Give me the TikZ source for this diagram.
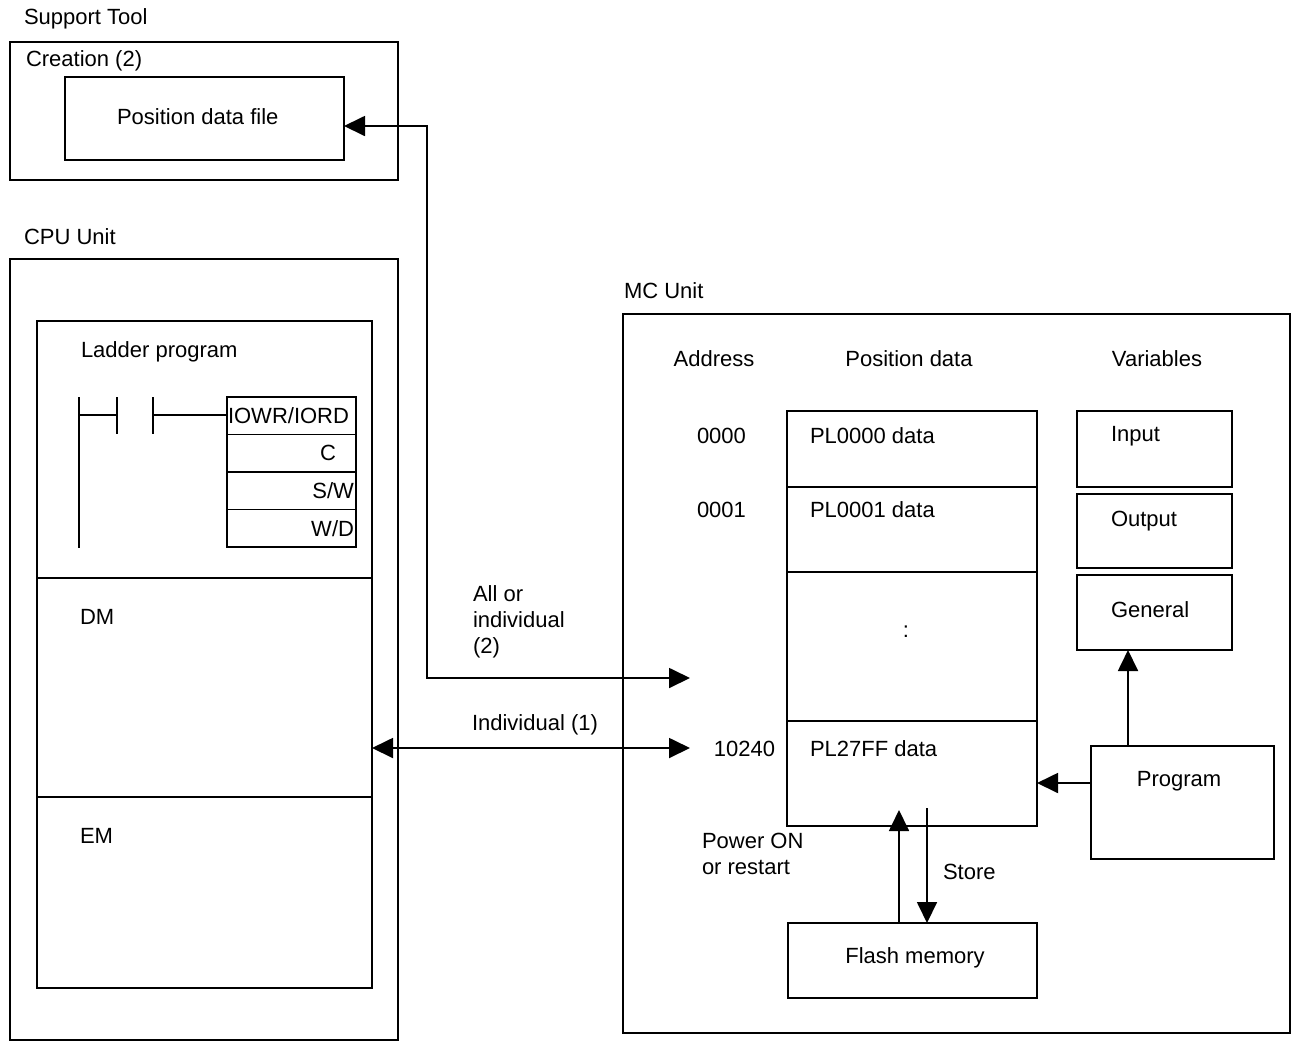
\documentclass[tikz,border=0pt]{standalone}
\usepackage{fontspec}
\setmainfont{Liberation Sans}
\usetikzlibrary{arrows.meta}
\begin{document}
\begin{tikzpicture}[x=1pt,y=-1pt,
  every node/.style={font=\fontsize{22}{26}\selectfont, inner sep=0pt, outer sep=0pt},
  lbl/.style={anchor=west},
  boxn/.style={draw, line width=1.8pt, anchor=north west},
  ln/.style={line width=1.8pt},
  arr/.style={line width=1.8pt, -{Triangle[length=21pt,width=20pt]}},
  darr/.style={line width=1.8pt, {Triangle[length=21pt,width=20pt]}-{Triangle[length=21pt,width=20pt]}}]
\useasboundingbox (0,0) rectangle (1298,1045);
% Support tool
\node[lbl] (stl) at (24,19) {Support Tool};
\node[boxn, minimum width=388pt, minimum height=138pt] (st) at (10,42) {};
\node[lbl] (crl) at (26,61) {Creation (2)};
\node[boxn, minimum width=279pt, minimum height=83pt] (pdf) at (65,77) {};
\node[lbl] (pdft) at (117,117) {Position data file};
% CPU unit
\node[lbl] (cpul) at (24,237) {CPU Unit};
\node[boxn, minimum width=388pt, minimum height=781pt] (cpu) at (10,259) {};
\node[boxn, minimum width=335pt, minimum height=667pt] (cpuin) at (37,321) {};
\coordinate (d1l) at (37,578); \coordinate (d1r) at (372,578);
\coordinate (d2l) at (37,797); \coordinate (d2r) at (372,797);
\draw[ln] (d1l) -- (d1r);
\draw[ln] (d2l) -- (d2r);
\node[lbl] (ladl) at (81,352) {Ladder program};
\node[lbl] (dml) at (80,617) {DM};
\node[lbl] (eml) at (80,836) {EM};
% ladder
\coordinate (r1) at (79,397); \coordinate (r2) at (79,548);
\draw[ln] (r1) -- (r2);
\coordinate (ca1) at (117,397); \coordinate (ca2) at (117,434);
\coordinate (cb1) at (153,397); \coordinate (cb2) at (153,434);
\draw[ln] (ca1) -- (ca2);
\draw[ln] (cb1) -- (cb2);
\coordinate (h1) at (79,415); \coordinate (h2) at (117,415);
\coordinate (h3) at (153,415);
\node[boxn, minimum width=129pt, minimum height=37.5pt] (ins1) at (227,397) {};
\node[boxn, minimum width=129pt, minimum height=37.5pt] (ins2) at (227,434.5) {};
\node[boxn, minimum width=129pt, minimum height=37.5pt] (ins3) at (227,472) {};
\node[boxn, minimum width=129pt, minimum height=37.5pt] (ins4) at (227,509.5) {};
\draw[ln] (h1) -- (h2);
\draw[ln] (h3) -- (h3 -| ins1.west);
\node[anchor=west] (t1) at ([xshift=1pt]ins1.west) {IOWR/IORD};
\node[anchor=east] (t2) at ([xshift=-20pt]ins2.east) {C};
\node[anchor=east] (t3) at ([xshift=-2pt]ins3.east) {S/W};
\node[anchor=east] (t4) at ([xshift=-2pt]ins4.east) {W/D};
% MC unit
\node[lbl] (mcl) at (624,291) {MC Unit};
\node[boxn, minimum width=667pt, minimum height=719pt] (mc) at (623,314) {};
\node (addrh) at (714,359) {Address};
\node (posh) at (909,359) {Position data};
\node (varh) at (1157,359) {Variables};
\node[boxn, minimum width=250pt, minimum height=76pt] (p0) at (787,411) {};
\node[boxn, minimum width=250pt, minimum height=85pt] (p1) at (787,487) {};
\node[boxn, minimum width=250pt, minimum height=149pt] (p2) at (787,572) {};
\node[boxn, minimum width=250pt, minimum height=105pt] (p3) at (787,721) {};
\node[lbl] (p0t) at (810,436) {PL0000 data};
\node[lbl] (p1t) at (810,510) {PL0001 data};
\node (p2t) at (906,632) {:};
\node[lbl] (p3t) at (810,749) {PL27FF data};
\node[lbl] (a0) at (697,436) {0000};
\node[lbl] (a1) at (697,510) {0001};
\node[anchor=east] (a3) at (775,749) {10240};
\node[boxn, minimum width=155pt, minimum height=76pt] (vin) at (1077,411) {};
\node[boxn, minimum width=155pt, minimum height=74pt] (vout) at (1077,494) {};
\node[boxn, minimum width=155pt, minimum height=75pt] (vgen) at (1077,575) {};
\node[lbl] (vint) at (1111,436) {Input};
\node[lbl] (voutt) at (1111,521) {Output};
\node[lbl] (vgent) at (1111,610) {General};
\node[boxn, minimum width=183pt, minimum height=113pt] (prog) at (1091,746) {};
\node (progt) at (1179,781) {Program};
\node[boxn, minimum width=249pt, minimum height=75pt] (flash) at (788,923) {};
\node (flasht) at (915,958) {Flash memory};
% connectors
\coordinate (g1) at (1128,746);
\draw[arr] (g1) -- (g1 |- vgen.south);
\coordinate (g2) at (1091,783);
\draw[arr] (g2) -- (g2 -| p3.east);
\coordinate (pw1) at (899,923); \coordinate (pw2) at (899,810);
\draw[arr] (pw1) -- (pw2);
\coordinate (sw1) at (927,808); \coordinate (sw2) at (927,923);
\draw[arr] (sw1) -- (sw2);
\node[anchor=north west, align=left] (pwt) at (702,833) {Power ON\\or restart};
\node[lbl] (stt) at (943,872) {Store};
% transfers
\coordinate (k1) at (427,126);
\coordinate (k2) at (427,678);
\coordinate (k3) at (690,678);
\draw[darr] (k1 -| pdf.east) -- (k1) -- (k2) -- (k3);
\coordinate (k4) at (690,748);
\draw[darr] (k4 -| cpuin.east) -- (k4);
\node[anchor=north west, align=left] (allt) at (473,586) {All or\\individual\\(2)};
\node[lbl] (indt) at (472,725) {Individual (1)};
\end{tikzpicture}
\end{document}
